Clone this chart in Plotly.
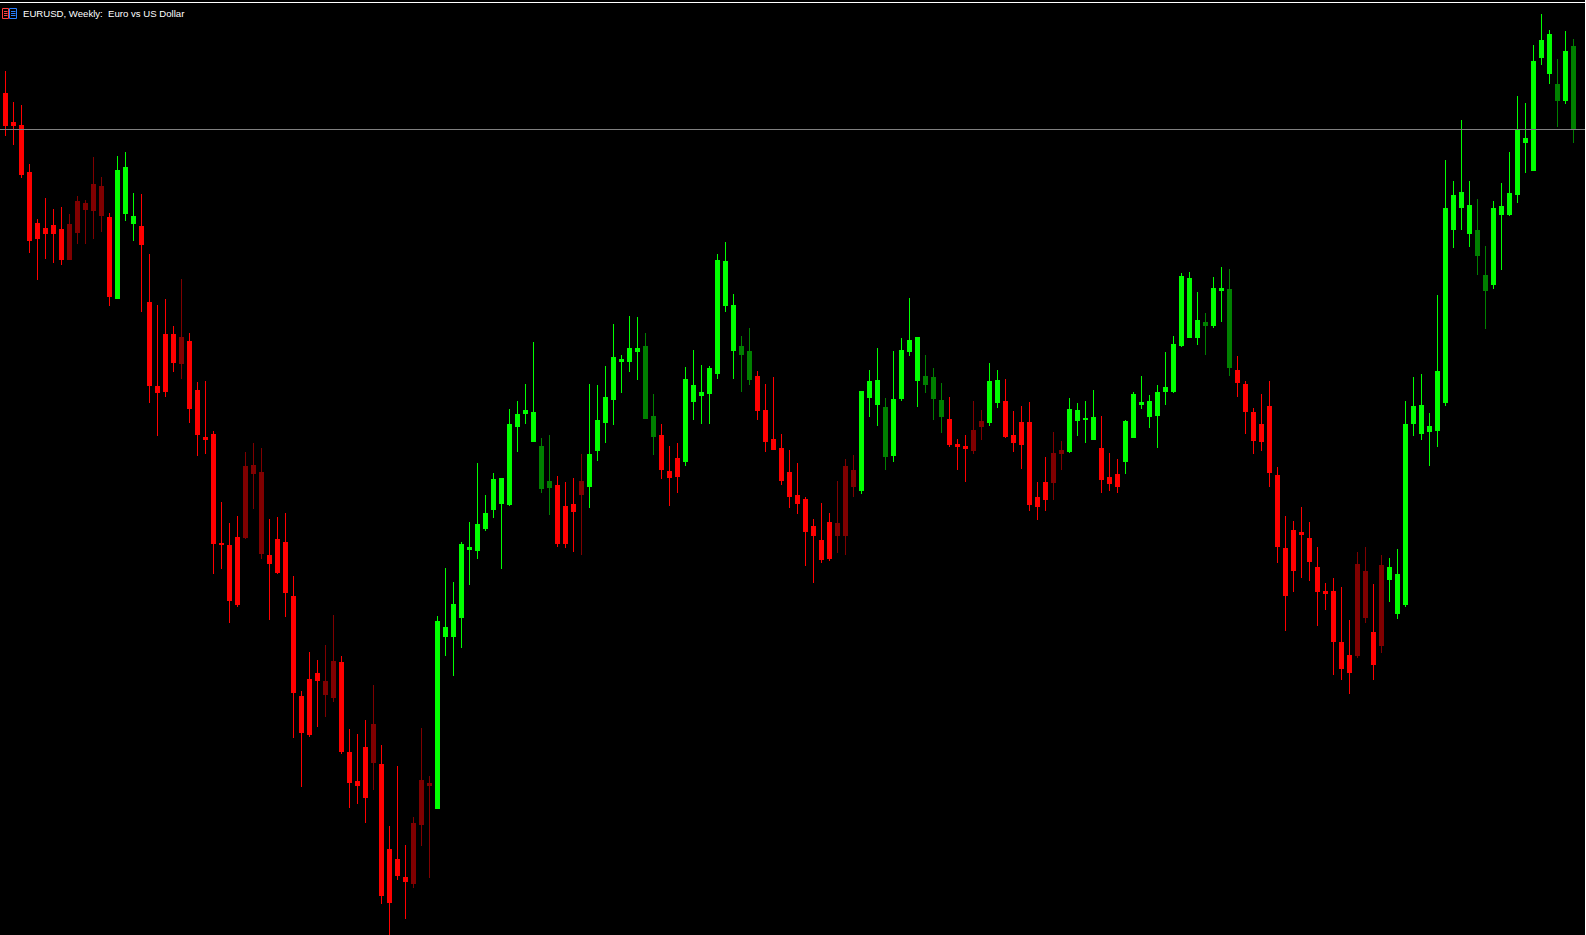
#
# EURUSD weekly candles, MT4 look
#
import plotly.graph_objects as go

# chart has no price scale, so values are points above the bottom edge
highs = [
    864, 833, 830, 771, 716, 737, 726, 728, 721, 739,
    735, 778, 758, 722, 779, 783, 742, 741, 681, 630,
    636, 609, 656, 602, 553, 554, 504, 433, 412, 419,
    483, 492, 487, 416, 418, 422, 359, 244, 283, 275,
    290, 320, 279, 206, 201, 215, 250, 190, 109, 169,
    90, 118, 207, 159, 319, 367, 353, 393, 413, 472,
    440, 462, 457, 526, 534, 551, 593, 497, 500, 459,
    453, 457, 481, 551, 550, 569, 611, 580, 619, 618,
    602, 541, 511, 489, 492, 568, 585, 570, 569, 681,
    693, 641, 599, 607, 564, 551, 558, 501, 485, 472,
    438, 416, 432, 422, 454, 476, 480, 544, 565, 587,
    537, 584, 597, 637, 598, 580, 567, 552, 538, 496,
    500, 534, 525, 572, 565, 556, 524, 529, 533, 453,
    478, 503, 494, 537, 532, 534, 545, 519, 482, 476,
    515, 543, 559, 540, 550, 583, 599, 662, 663, 643,
    622, 658, 668, 666, 579, 554, 527, 541, 554, 468,
    419, 414, 428, 413, 388, 352, 357, 348, 315, 383,
    388, 351, 380, 377, 386, 534, 558, 561, 522, 640,
    775, 754, 815, 754, 736, 689, 734, 752, 783, 839,
    832, 890, 921, 905, 876, 904, 896,
]
body_top = [
    842, 813, 810, 763, 712, 707, 710, 706, 711, 734,
    732, 751, 749, 718, 765, 768, 719, 709, 633, 549,
    601, 601, 598, 594, 545, 498, 501, 392, 390, 398,
    469, 470, 463, 380, 396, 393, 339, 239, 256, 262,
    254, 274, 273, 183, 154, 188, 211, 171, 86, 76,
    58, 112, 155, 152, 314, 308, 331, 391, 388, 411,
    422, 456, 457, 511, 521, 525, 523, 489, 454, 450,
    429, 431, 454, 481, 515, 538, 578, 576, 587, 587,
    589, 519, 500, 464, 477, 556, 550, 543, 567, 675,
    674, 630, 589, 584, 559, 525, 496, 487, 463, 440,
    436, 409, 395, 413, 412, 469, 465, 544, 554, 555,
    528, 536, 585, 595, 598, 559, 558, 535, 516, 491,
    489, 505, 514, 554, 555, 534, 500, 513, 513, 438,
    453, 482, 485, 526, 525, 517, 518, 487, 458, 461,
    514, 541, 533, 534, 543, 548, 591, 659, 657, 615,
    613, 647, 647, 646, 565, 551, 523, 511, 529, 460,
    387, 405, 403, 397, 368, 344, 344, 293, 280, 371,
    364, 303, 370, 368, 361, 511, 529, 530, 509, 564,
    727, 740, 743, 730, 705, 660, 727, 729, 742, 805,
    797, 874, 895, 901, 851, 884, 889,
]
body_bottom = [
    810, 810, 761, 695, 697, 702, 702, 676, 676, 703,
    726, 725, 720, 639, 637, 722, 712, 691, 550, 543,
    544, 573, 572, 527, 501, 496, 392, 391, 335, 331,
    398, 462, 382, 372, 363, 343, 243, 203, 201, 255,
    241, 238, 184, 153, 150, 138, 173, 40, 33, 60,
    54, 52, 111, 150, 127, 299, 299, 318, 386, 385,
    407, 426, 432, 431, 509, 522, 494, 447, 448, 392,
    392, 424, 441, 449, 485, 513, 536, 574, 574, 584,
    517, 499, 466, 458, 459, 474, 534, 540, 542, 562,
    630, 585, 581, 556, 525, 494, 486, 455, 439, 432,
    404, 400, 376, 377, 400, 400, 449, 445, 538, 531,
    479, 480, 537, 584, 555, 551, 537, 519, 491, 489,
    487, 485, 509, 513, 533, 499, 493, 491, 431, 429,
    436, 453, 482, 484, 515, 516, 496, 456, 452, 449,
    474, 498, 531, 519, 520, 544, 544, 590, 598, 598,
    610, 610, 645, 568, 553, 524, 495, 494, 463, 389,
    340, 365, 401, 374, 344, 342, 294, 267, 263, 280,
    318, 271, 290, 356, 322, 331, 512, 502, 504, 505,
    533, 706, 728, 702, 680, 645, 651, 721, 721, 741,
    793, 765, 878, 862, 835, 835, 806,
]
lows = [
    799, 790, 757, 682, 655, 676, 672, 670, 675, 691,
    691, 696, 703, 629, 636, 714, 694, 623, 532, 499,
    538, 563, 556, 512, 479, 481, 361, 366, 312, 328,
    396, 426, 376, 315, 361, 318, 197, 148, 198, 208,
    218, 233, 181, 127, 131, 112, 145, 31, 0, 55,
    16, 47, 89, 57, 126, 279, 259, 287, 350, 376,
    404, 417, 366, 429, 483, 511, 494, 442, 420, 388,
    387, 383, 380, 427, 474, 492, 510, 542, 563, 555,
    516, 480, 456, 429, 442, 469, 515, 511, 511, 556,
    623, 556, 543, 550, 515, 483, 485, 450, 427, 421,
    369, 352, 372, 374, 382, 380, 438, 441, 518, 509,
    465, 473, 534, 579, 528, 542, 515, 502, 488, 465,
    453, 481, 495, 509, 527, 497, 483, 466, 424, 415,
    424, 435, 465, 482, 499, 492, 496, 442, 444, 442,
    461, 497, 526, 507, 487, 530, 542, 588, 597, 590,
    580, 607, 613, 559, 538, 501, 481, 484, 448, 372,
    304, 343, 357, 354, 309, 325, 260, 255, 241, 277,
    312, 255, 282, 333, 316, 328, 499, 495, 469, 488,
    529, 687, 705, 688, 660, 606, 646, 665, 719, 732,
    762, 765, 870, 851, 808, 831, 792,
]
# R bright red, D dark red, G bright green, K dark green
kinds = (
    "RRRRRRRR" "DDDDD" "R" "GGG" "RRRRR" "D" "RRRRRRR" "DDD" "RRRRRRR" "DD"
    "RRRR" "D" "RRRR" "DDD" "GGGGGGGGGGGGG" "KK" "RRR" "D" "GGGGGGG" "KK"
    "RRR" "GGGGGGG" "KK" "RRRRRRRRRR" "DDD" "GGG" "K" "GGGG" "KKK" "RRR"
    "DD" "GG" "RRRRRR" "DD" "GGGG" "RRR" "GGGGGGGGGG" "K" "GG" "K"
    "RRRRRRRRRRRRRRR" "DD" "R" "D" "GGGGGGGGGGG" "KK" "GGGGGGGG" "K" "G" "K"
)
kind_colors = {"R": "#ff0000", "D": "#800000", "G": "#00ff00", "K": "#008000"}
level = 805.5
title = "EURUSD, Weekly:  Euro vs US Dollar"

W, H = 1586, 935


def px_x(x):
    return x / W


def px_y(y):
    return 1 - y / H


def px_line(x0, y0, x1, y1, color):
    fig.add_shape(type="line", xref="paper", yref="paper",
                  x0=px_x(x0), y0=px_y(y0), x1=px_x(x1), y1=px_y(y1),
                  line=dict(color=color, width=1))


fig = go.Figure()

for kind, color in kind_colors.items():
    idx = [i for i, k in enumerate(kinds) if k == kind]
    side = dict(line=dict(color=color, width=1), fillcolor=color)
    fig.add_trace(go.Candlestick(
        x=idx,
        open=[body_bottom[i] for i in idx],
        high=[highs[i] for i in idx],
        low=[lows[i] for i in idx],
        close=[body_top[i] for i in idx],
        increasing=side,
        decreasing=side,
        whiskerwidth=0,
        showlegend=False,
    ))

# horizontal level line
fig.add_hline(y=level, line=dict(color="#808080", width=1))

# window edge
px_line(0, 2.5, W, 2.5, "#ffffff")
px_line(W - 0.5, 0, W - 0.5, H, "#ffffff")

# small chart icon next to the title: red and blue boxes with three rows
for left, right, color in [(2.5, 8.5, "#ff4040"), (9.5, 16.5, "#2a7fff")]:
    fig.add_shape(type="rect", xref="paper", yref="paper",
                  x0=px_x(left), x1=px_x(right), y0=px_y(8.5), y1=px_y(18.5),
                  line=dict(color=color, width=1))
    for row in (11.5, 13.5, 15.5):
        px_line(left + 1.5, row, right - 1, row, color)

fig.add_annotation(text=title, xref="paper", yref="paper", x=px_x(22), y=px_y(13.5),
                   xanchor="left", yanchor="middle", showarrow=False, borderpad=0,
                   font=dict(family="Liberation Sans", size=9.6, color="#ffffff"))

fig.update_layout(
    width=W,
    height=H,
    margin=dict(l=0, r=0, t=0, b=0),
    paper_bgcolor="#000000",
    plot_bgcolor="#000000",
    boxgap=0.42,
    boxgroupgap=0,
    xaxis=dict(range=[-0.6875, 197.5625], visible=False, rangeslider=dict(visible=False)),
    yaxis=dict(range=[0, H], visible=False),
)

# browser default body margin would shift the whole chart; bars need hard corners
page_fix = """
document.body.style.margin = '0';
document.body.style.overflow = 'hidden';
var css = document.createElement('style');
css.textContent = '.boxlayer path {shape-rendering: crispEdges; stroke-linejoin: miter;}';
document.head.appendChild(css);
"""
fig.write_html("out.html", config={"displayModeBar": False}, post_script=page_fix)
